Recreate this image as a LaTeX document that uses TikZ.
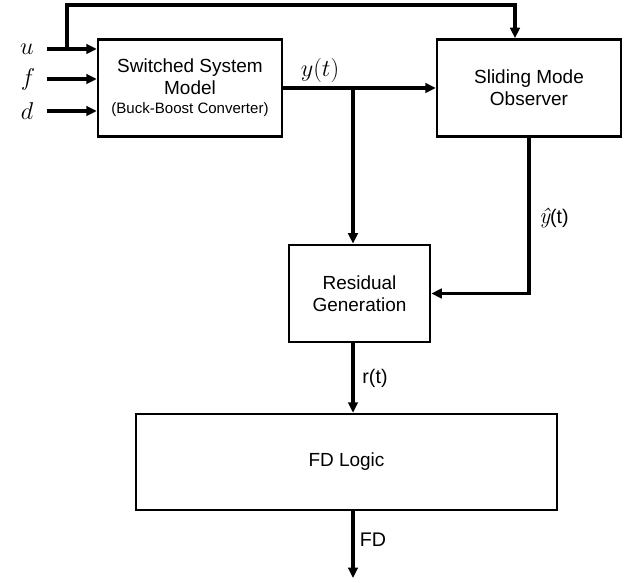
\documentclass[tikz,border=0pt]{standalone}
\usepackage{fontspec}
\setmainfont{Liberation Sans}
\newfontfamily\lmfont{Latin Modern Roman}
\usetikzlibrary{arrows.meta}

\begin{document}
\begin{tikzpicture}[blk/.style = {draw, line width = 1.8pt, align = center, font = \fontsize{13.5}{15.6}\selectfont},
		wire/.style = {line width = 2.2pt},
		arr/.style = {wire, -{Triangle[length = 2.6mm, width = 2.4mm]}},
		lbl/.style = {font = \fontsize{14}{16}\selectfont}]
		\useasboundingbox (0,0) rectangle (15.925,14.575);
		\node [blk, minimum width = 4.6cm, minimum height = 2.43cm] (sw) at (4.75,12.375) {Switched System\\Model\\[-2pt]{\fontsize{10.7}{12}\selectfont (Buck-Boost Converter)}};
		\node [blk, minimum width = 4.6cm, minimum height = 2.43cm] (obs) at (13.225,12.375) {Sliding Mode\\Observer};
		\node [blk, minimum width = 3.53cm, minimum height = 2.43cm] (res) at (8.9875,7.2375) {Residual\\Generation};
		\node [blk, minimum width = 10.53cm, minimum height = 2.4cm] (fd) at (8.6625,3.025) {FD Logic};
		\node [font = \fontsize{16}{18}\selectfont] (u) at (0.675,13.35) {$u$};
		\node [font = \fontsize{16}{18}\selectfont] (f) at (0.7,12.6) {$f$};
		\node [font = \fontsize{16}{18}\selectfont] (d) at (0.675,11.8) {$d$};
		\coordinate (uin) at (1.175,13.35);
		\coordinate (fin) at (1.175,12.6);
		\coordinate (din) at (1.175,11.8);
		\coordinate (fb) at (1.675,13.35);
		\coordinate (top) at (12.875,14.45);
		\coordinate (br) at (8.825,12.375);
		\coordinate (out) at (8.825,0.125);
		\draw [arr] (uin) -- (uin -| sw.west);
		\draw [arr] (fin) -- (fin -| sw.west);
		\draw [arr] (din) -- (din -| sw.west);
		\draw [arr] (fb) |- (top) -- (top |- obs.north);
		\draw [arr] (sw.east) -- (obs.west);
		\draw [arr] (br) -- (br |- res.north);
		\draw [arr] (obs.south) |- (res.east);
		\draw [arr] (br |- res.south) -- (br |- fd.north);
		\draw [arr] (br |- fd.south) -- (out);
		\node [font = \fontsize{17}{19}\selectfont] (ylbl) at (8.0,12.825) {$y(t)$};
		\node [lbl] (yhat) at (13.85,9.125) {{\lmfont\itshape\fontsize{16}{18}\selectfont ŷ}(t)};
		\node [lbl] (rlbl) at (9.375,5.125) {r(t)};
		\node [lbl] (fdlbl) at (9.325,1.075) {FD};
	\end{tikzpicture}
\end{document}
